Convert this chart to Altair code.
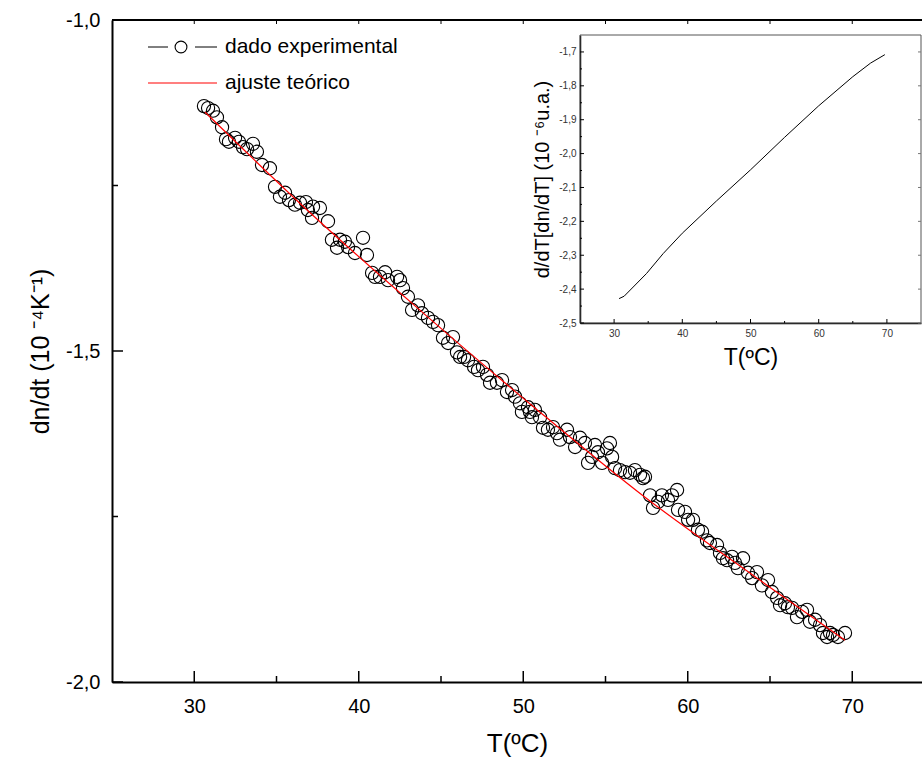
import altair as alt
import pandas as pd

# ---------------- data ----------------
t_exp = [30.59, 30.84, 31.14, 31.38, 31.69, 31.93, 32.11, 32.48, 32.72, 32.96,
         33.21, 33.57, 33.81, 34.12, 34.60, 34.91, 35.21, 35.52, 35.76, 36.12,
         36.43, 36.79, 36.91, 37.16, 37.22, 37.64,
         38.13, 38.37, 38.68, 38.86, 39.16, 39.35, 39.77, 40.26, 40.50, 40.81,
         40.99, 41.29, 41.60, 41.78, 42.33, 42.51, 42.69, 42.99, 43.24, 43.60, 43.84,
         44.21, 44.51, 44.82, 45.12, 45.43, 45.73, 45.97, 46.16, 46.40, 46.64,
         47.01, 47.25, 47.55, 47.80, 47.98, 48.40, 48.71, 49.01, 49.32, 49.50,
         49.80, 49.92, 50.29, 50.41, 50.53,
         50.71, 51.02, 51.20, 51.50, 51.81, 52.05, 52.23, 52.66, 52.84, 53.15,
         53.45, 53.75, 53.94, 54.18, 54.36, 54.54, 54.79, 55.09, 55.27, 55.40,
         55.58, 55.88, 56.19, 56.49, 56.79, 57.10, 57.28,
         57.40, 57.71, 57.89, 58.19, 58.43, 58.80, 59.04, 59.35, 59.41, 59.83,
         60.02, 60.32, 60.62, 60.87, 61.17, 61.35, 61.78, 61.96, 62.14, 62.39,
         62.69, 62.87, 63.05, 63.36, 63.66, 63.91,
         64.21, 64.51, 64.88, 65.12, 65.43, 65.61, 65.91, 66.09, 66.34, 66.64,
         66.95, 67.25, 67.43, 67.74, 68.04, 68.22, 68.47, 68.65, 68.83, 69.13, 69.56]
dn_exp = [-1.130, -1.133, -1.137, -1.147, -1.162, -1.180, -1.184, -1.178, -1.184, -1.192,
          -1.195, -1.187, -1.199, -1.219, -1.224, -1.252, -1.267, -1.261, -1.272, -1.279,
          -1.276, -1.275, -1.287, -1.299, -1.282, -1.284,
          -1.304, -1.332, -1.344, -1.332, -1.335, -1.343, -1.352, -1.329, -1.355, -1.382,
          -1.388, -1.388, -1.381, -1.393, -1.388, -1.393, -1.405, -1.418, -1.438, -1.431, -1.443,
          -1.450, -1.456, -1.461, -1.480, -1.488, -1.479, -1.502, -1.509, -1.509, -1.514,
          -1.524, -1.529, -1.524, -1.536, -1.548, -1.548, -1.544, -1.562, -1.559, -1.569,
          -1.579, -1.592, -1.585, -1.592, -1.600,
          -1.589, -1.600, -1.616, -1.619, -1.615, -1.624, -1.634, -1.619, -1.630, -1.645,
          -1.631, -1.639, -1.669, -1.660, -1.642, -1.653, -1.669, -1.647, -1.639, -1.660,
          -1.677, -1.680, -1.683, -1.684, -1.680, -1.687, -1.692,
          -1.690, -1.718, -1.737, -1.728, -1.718, -1.725, -1.718, -1.710, -1.740, -1.743,
          -1.755, -1.755, -1.770, -1.773, -1.786, -1.790, -1.793, -1.805, -1.813, -1.816,
          -1.811, -1.820, -1.828, -1.813, -1.835, -1.843,
          -1.834, -1.854, -1.846, -1.864, -1.873, -1.884, -1.881, -1.887, -1.888, -1.902,
          -1.894, -1.891, -1.909, -1.906, -1.914, -1.926, -1.932, -1.926, -1.929, -1.932, -1.926]

t_fit = [30.65, 37.34, 44.03, 50.71, 57.40, 64.09, 69.56]
dn_fit = [-1.139, -1.298, -1.445, -1.586, -1.721, -1.841, -1.937]

t_der = [30.73, 31.47, 34.75, 37.20, 40.00, 45.00, 50.00, 55.00, 60.00, 65.00, 67.60, 69.70]
der = [-2.428, -2.421, -2.354, -2.295, -2.235, -2.140, -2.048, -1.952, -1.859, -1.773, -1.733, -1.708]

main_xticks = [30, 40, 50, 60, 70]
main_xminor = [35, 45, 55, 65]
main_yticks = [-2.0, -1.5, -1.0]
main_yminor = [-1.75, -1.25]
inset_xticks = [30, 40, 50, 60, 70]
inset_xminor = [35, 45, 55, 65]
inset_yticks = [-2.5, -2.4, -2.3, -2.2, -2.1, -2.0, -1.9, -1.8, -1.7]
inset_yminor = [-2.45, -2.35, -2.25, -2.15, -2.05, -1.95, -1.85, -1.75]
legend_labels = ["dado experimental", "ajuste teórico"]

# ---------------- layout ----------------
W, H = 810, 662
FONT = "Liberation Sans"
comma = "replace(replace(format(datum.value, '.1f'), '.', ','), '\u2212', '-')"

xs = alt.Scale(domain=[25, 74.24], nice=False, zero=False)
ys = alt.Scale(domain=[-2.0, -1.0], nice=False, zero=False)

x_axis = alt.Axis(values=main_xticks, ticks=False, grid=False, domainColor="black",
                  domainWidth=2, labelFontSize=20, labelColor="black", labelPadding=14,
                  title="T(ºC)", titleFontSize=26, titleFontWeight="normal",
                  titleColor="black", titlePadding=14)
y_axis = alt.Axis(values=main_yticks, ticks=False, grid=False, domainColor="black",
                  domainWidth=2, labelFontSize=20, labelColor="black", labelPadding=12,
                  labelExpr=comma, title="dn/dt (10 ⁻⁴K⁻¹)", titleFontSize=25,
                  titleFontWeight="normal", titleColor="black", titlePadding=12)

exp_df = pd.DataFrame({"t": t_exp, "v": dn_exp})
fit_df = pd.DataFrame({"t": t_fit, "v": dn_fit})

points = alt.Chart(exp_df).mark_point(
    shape="circle", filled=False, size=175, color="black", strokeWidth=1.1, opacity=1
).encode(x=alt.X("t:Q", scale=xs, axis=x_axis), y=alt.Y("v:Q", scale=ys, axis=y_axis))

fit = alt.Chart(fit_df).mark_line(color="red", strokeWidth=1.2, interpolate="monotone").encode(
    x="t:Q", y="v:Q")

xt_major = alt.Chart(pd.DataFrame({"t": main_xticks})).mark_rule(color="black", strokeWidth=1.5).encode(
    x="t:Q", y=alt.value(H), y2=alt.value(H - 11))
xt_minor = alt.Chart(pd.DataFrame({"t": main_xminor})).mark_rule(color="black", strokeWidth=1.5).encode(
    x="t:Q", y=alt.value(H), y2=alt.value(H - 6))
xt_top = alt.Chart(pd.DataFrame({"t": main_xticks + main_xminor})).mark_rule(color="black", strokeWidth=1).encode(
    x="t:Q", y=alt.value(0), y2=alt.value(4))
yt_major = alt.Chart(pd.DataFrame({"v": main_yticks})).mark_rule(color="black", strokeWidth=1.5).encode(
    y="v:Q", x=alt.value(0), x2=alt.value(11))
yt_minor = alt.Chart(pd.DataFrame({"v": main_yminor})).mark_rule(color="black", strokeWidth=1.5).encode(
    y="v:Q", x=alt.value(0), x2=alt.value(6))
top_line = alt.Chart(pd.DataFrame({"t": [25], "t2": [74.24], "v": [-1.0]})).mark_rule(
    color="black", strokeWidth=2).encode(x="t:Q", x2="t2:Q", y="v:Q")

# legend (drawn by hand)
leg1 = pd.DataFrame({"label": [legend_labels[0]]})
leg2 = pd.DataFrame({"label": [legend_labels[1]]})
lg_a = alt.Chart(leg1).mark_rule(color="black", strokeWidth=1).encode(
    x=alt.value(36), x2=alt.value(56), y=alt.value(27))
lg_b = alt.Chart(leg1).mark_rule(color="black", strokeWidth=1).encode(
    x=alt.value(83), x2=alt.value(105), y=alt.value(27))
lg_c = alt.Chart(leg1).mark_point(shape="circle", filled=False, size=140, color="black",
                                  strokeWidth=1.1, opacity=1).encode(
    x=alt.value(69), y=alt.value(27))
lg_t1 = alt.Chart(leg1).mark_text(align="left", baseline="middle", fontSize=21, color="black").encode(
    x=alt.value(113), y=alt.value(27), text="label:N")
lg_d = alt.Chart(leg2).mark_rule(color="red", strokeWidth=1.2).encode(
    x=alt.value(36), x2=alt.value(105), y=alt.value(63))
lg_t2 = alt.Chart(leg2).mark_text(align="left", baseline="middle", fontSize=21, color="black").encode(
    x=alt.value(113), y=alt.value(63), text="label:N")

main = alt.layer(points, fit, xt_major, xt_minor, xt_top, yt_major, yt_minor, top_line,
                 lg_a, lg_b, lg_c, lg_t1, lg_d, lg_t2)

# ---------------- inset ----------------
IX0, IX1, IY0, IY1 = 468, 809, 303, 15
xsi = alt.Scale(domain=[25, 75], range=[IX0, IX1], nice=False, zero=False)
ysi = alt.Scale(domain=[-2.5, -1.65], range=[IY0, IY1], nice=False, zero=False)
xi_axis = alt.Axis(orient="bottom", offset=-(H - IY0), values=inset_xticks, ticks=False, grid=False,
                   domainColor="black", domainWidth=1.5, labelFontSize=10, labelColor="#333333",
                   labelPadding=5, title="T(ºC)", titleFontSize=23, titleFontWeight="normal",
                   titleColor="black", titlePadding=8)
yi_axis = alt.Axis(orient="left", offset=-IX0, values=inset_yticks, ticks=False, grid=False,
                   domainColor="black", domainWidth=1.5, labelFontSize=10, labelColor="#333333",
                   labelPadding=4, labelExpr=comma, title="d/dT[dn/dT] (10 ⁻⁶u.a.)",
                   titleFontSize=20, titleFontWeight="normal", titleColor="black", titlePadding=6)

der_df = pd.DataFrame({"ti": t_der, "vi": der})
inset_line = alt.Chart(der_df).mark_line(color="black", strokeWidth=1).encode(
    x=alt.X("ti:Q", scale=xsi, axis=xi_axis), y=alt.Y("vi:Q", scale=ysi, axis=yi_axis))
frame = alt.Chart(pd.DataFrame({"ti": [25], "ti2": [75], "vi": [-2.5], "vi2": [-1.65]})).mark_rect(
    fillOpacity=0, stroke="#555555", strokeWidth=1).encode(x="ti:Q", x2="ti2:Q", y="vi:Q", y2="vi2:Q")
ixt_major = alt.Chart(pd.DataFrame({"ti": inset_xticks})).mark_rule(color="black", strokeWidth=1).encode(
    x="ti:Q", y=alt.value(IY0), y2=alt.value(IY0 - 4))
ixt_minor = alt.Chart(pd.DataFrame({"ti": inset_xminor})).mark_rule(color="black", strokeWidth=1).encode(
    x="ti:Q", y=alt.value(IY0), y2=alt.value(IY0 - 2))
iyt_major = alt.Chart(pd.DataFrame({"vi": inset_yticks})).mark_rule(color="black", strokeWidth=1).encode(
    y="vi:Q", x=alt.value(IX0), x2=alt.value(IX0 + 4))
iyt_minor = alt.Chart(pd.DataFrame({"vi": inset_yminor})).mark_rule(color="black", strokeWidth=1).encode(
    y="vi:Q", x=alt.value(IX0), x2=alt.value(IX0 + 2))
iyt_right = alt.Chart(pd.DataFrame({"vi": inset_yticks})).mark_rule(color="#777777", strokeWidth=1).encode(
    y="vi:Q", x=alt.value(IX1), x2=alt.value(IX1 - 3))

inset = alt.layer(inset_line, frame, ixt_major, ixt_minor, iyt_major, iyt_minor, iyt_right)

chart = alt.layer(main, inset).resolve_scale(x="independent", y="independent").properties(
    width=W, height=H,
    padding={"left": 112, "top": 20, "right": 0, "bottom": 84},
    autosize=alt.AutoSizeParams(type="none"),
).configure_view(stroke=None).configure(font=FONT, background="white")

chart.save("out.html", embed_options={"renderer": "svg", "actions": False})
